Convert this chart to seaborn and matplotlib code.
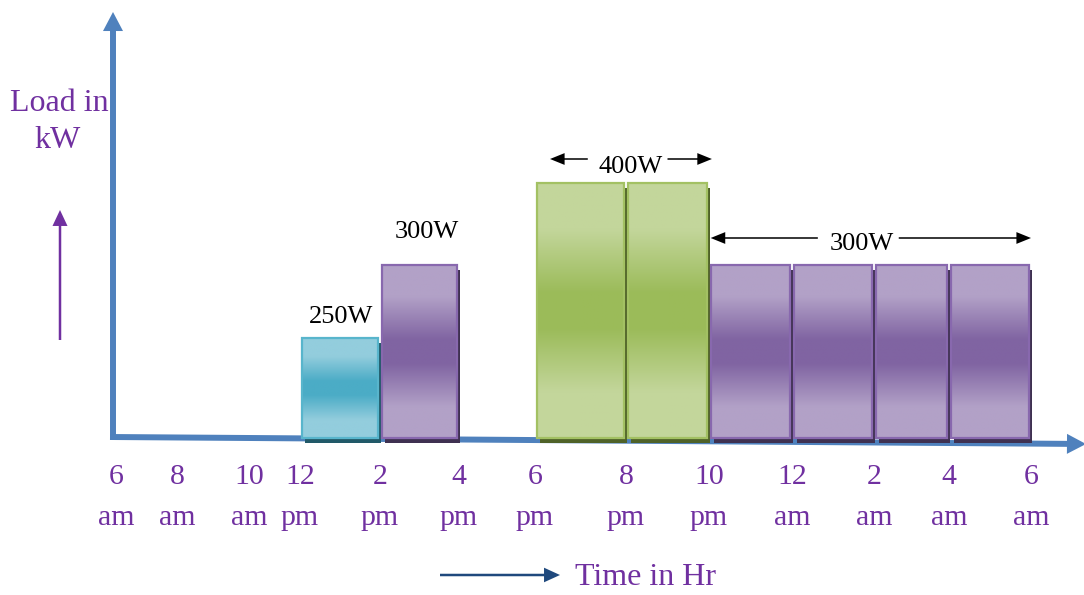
import matplotlib
matplotlib.use("Agg")
import matplotlib.pyplot as plt
import matplotlib.patheffects as pe
import matplotlib.transforms as mtransforms
from matplotlib.colors import LinearSegmentedColormap
from matplotlib.patches import Rectangle
import numpy as np
import pandas as pd
import seaborn as sns

# --- data ---------------------------------------------------------------
# each slot is 2 hours long, start given in hours after 6 am
slot_start_hr = [6, 8, 12, 14, 16, 18, 20, 22]
load_w = [250, 300, 400, 400, 300, 300, 300, 300]
slot_kind = ["aqua", "purple", "green", "green", "purple", "purple", "purple", "purple"]

tick_hr = [0, 2, 4, 6, 8, 10, 12, 14, 16, 18, 20, 22, 24]
tick_num = ["6", "8", "10", "12", "2", "4", "6", "8", "10", "12", "2", "4", "6"]
tick_half = ["am", "am", "am", "pm", "pm", "pm", "pm", "pm", "pm", "am", "am", "am", "am"]

callout_text = ["250W", "300W"]
callout_slot = [0, 1]

span_text = ["400W", "300W"]
span_load = [400, 300]

# --- layout -------------------------------------------------------------
W, H = 1084, 595
BASE_PX = 438  # baseline, pixels from top

# the sketch is not to scale: piecewise mapping hours -> px, watts -> px
X_HR = [-10, 0, 2, 4, 6, 8, 10, 12, 14, 16, 18, 20, 22, 24, 40]
X_PX = [-189, 116, 177, 249, 300, 380, 459, 535, 626, 709, 792, 874, 949, 1031, 1687]
Y_W = [-1000, 0, 250, 300, 400, 2000]
Y_PX = [-400, 0, 100, 173, 255, 1567]

# span arrows: text centre, (tail, tip) left, (tail, tip) right, in hours
SPAN_TEXT_HR = [14.1, 19.7]
SPAN_LEFT = [(13.16, 12.33), (18.63, 16.04)]
SPAN_RIGHT = [(15.0, 16.07), (20.66, 24.0)]
SPAN_ARROW_UP = [24, 27]
SPAN_TEXT_UP = [10, 15]
CALLOUT_OFFSET = [(1, 15), (7, 27)]

PURPLE_TXT = "#7030A0"
AXIS_BLUE = "#4F81BD"

STYLE = {
    "aqua": dict(light="#93CDDD", dark="#4BACC6", edge="#58B5CC", shadow="#215968"),
    "purple": dict(light="#B2A1C7", dark="#8064A2", edge="#8868AE", shadow="#3F3151"),
    "green": dict(light="#C3D69B", dark="#9BBB59", edge="#A3C163", shadow="#4F6228"),
}


def x_fwd(h):
    return np.interp(h, X_HR, X_PX)


def x_inv(p):
    return np.interp(p, X_PX, X_HR)


def y_fwd(w):
    return np.interp(w, Y_W, Y_PX)


def y_inv(p):
    return np.interp(p, Y_PX, Y_W)


def px_arrow(ax, x0, y0, x1, y1, color, head_len, head_w, tail_w, zorder=5):
    ax.annotate(
        "",
        xy=(x1, H - y1),
        xytext=(x0, H - y0),
        xycoords="figure pixels",
        textcoords="figure pixels",
        annotation_clip=False,
        zorder=zorder,
        arrowprops=dict(
            arrowstyle=f"simple,head_length={head_len},head_width={head_w},tail_width={tail_w}",
            mutation_scale=1,
            color=color,
            lw=0,
            shrinkA=0,
            shrinkB=0,
        ),
    )


sns.set_theme(style="white")
plt.rcParams["font.family"] = ["Liberation Serif", "DejaVu Serif"]

fig = plt.figure(figsize=(W / 100, H / 100), dpi=100)
ax = fig.add_axes([0, 0, 1, 1])

df = pd.DataFrame(
    {
        "mid_hr": np.array(slot_start_hr, dtype=float) + 1,
        "load_w": load_w,
        "kind": slot_kind,
    }
)
sns.barplot(
    data=df, x="mid_hr", y="load_w", orient="x", native_scale=True,
    width=0.955, color=STYLE["purple"]["dark"], errorbar=None, ax=ax,
)

ax.set_xscale("function", functions=(x_fwd, x_inv))
ax.set_yscale("function", functions=(y_fwd, y_inv))
ax.set_xlim(x_inv(0), x_inv(W))
ax.set_ylim(y_inv(-(H - BASE_PX)), y_inv(BASE_PX))
ax.axis("off")

# gradient fill, shadow and outline for every bar
grad = np.linspace(0, 1, 256).reshape(-1, 1)
bars = list(ax.patches)
for patch, kind in zip(bars, df["kind"]):
    st = STYLE[kind]
    cmap = LinearSegmentedColormap.from_list(
        kind,
        [(0, st["light"]), (0.18, st["light"]), (0.43, st["dark"]),
         (0.57, st["dark"]), (0.82, st["light"]), (1, st["light"])],
    )
    x0, y0 = patch.get_xy()
    w, h = patch.get_width(), patch.get_height()
    pts = ax.transAxes.inverted().transform(ax.transData.transform([(x0, y0), (x0 + w, y0 + h)]))
    patch.set_facecolor(st["dark"])
    patch.set_edgecolor("none")
    patch.set_zorder(2)
    patch.set_path_effects([
        pe.SimplePatchShadow(offset=(2.2, -3.6), shadow_rgbFace=st["shadow"], alpha=1.0),
        pe.Normal(),
    ])
    im = ax.imshow(
        grad, cmap=cmap, vmin=0, vmax=1, aspect="auto", interpolation="bilinear",
        extent=(pts[0, 0], pts[1, 0], pts[0, 1], pts[1, 1]),
        transform=ax.transAxes, zorder=3,
    )
    im.set_clip_path(patch)
    ax.add_patch(Rectangle((x0, y0), w, h, fill=False, ec=st["edge"], lw=1.6, zorder=4))

# value callouts above the first two bars
for text, idx, off in zip(callout_text, callout_slot, CALLOUT_OFFSET):
    ax.annotate(
        text, xy=(slot_start_hr[idx] + 1, load_w[idx]), xytext=off,
        textcoords="offset pixels", ha="center", va="baseline",
        fontsize=19, color="black", zorder=5,
    )

# span labels with double arrows
for i, text in enumerate(span_text):
    ax.annotate(
        text, xy=(SPAN_TEXT_HR[i], span_load[i]), xytext=(0, SPAN_TEXT_UP[i]),
        textcoords="offset pixels", ha="center", va="baseline",
        fontsize=19, color="black", zorder=5,
    )
    tr = mtransforms.offset_copy(ax.transData, fig=fig, x=0, y=SPAN_ARROW_UP[i], units="dots")
    for tail, tip in (SPAN_LEFT[i], SPAN_RIGHT[i]):
        ax.annotate(
            "", xy=(tip, span_load[i]), xytext=(tail, span_load[i]),
            xycoords=tr, textcoords=tr, annotation_clip=False, zorder=5,
            arrowprops=dict(
                arrowstyle="simple,head_length=10.5,head_width=8.5,tail_width=1.1",
                mutation_scale=1, color="black", lw=0, shrinkA=0, shrinkB=0,
            ),
        )

# hand-drawn axes, beneath the bars
px_arrow(ax, 113, 439, 113, 12, AXIS_BLUE, 13.7, 14.4, 4.3, zorder=1)
px_arrow(ax, 110, 437, 1086, 444, AXIS_BLUE, 13.7, 14.4, 4.3, zorder=1)

# tick labels: number over am/pm
tick_tr = mtransforms.blended_transform_factory(ax.transData, fig.transFigure)
for hr, num, half in zip(tick_hr, tick_num, tick_half):
    ax.text(hr, 1 - 484 / H, num, transform=tick_tr, ha="center", va="baseline",
            fontsize=21.5, color=PURPLE_TXT)
    ax.text(hr, 1 - 525 / H, half, transform=tick_tr, ha="center", va="baseline",
            fontsize=21.5, color=PURPLE_TXT)

# axis titles and direction arrows
fig.text(59 / W, 1 - 111 / H, "Load in", ha="center", va="baseline", fontsize=23, color=PURPLE_TXT)
fig.text(58 / W, 1 - 148 / H, "kW", ha="center", va="baseline", fontsize=23, color=PURPLE_TXT)
px_arrow(ax, 60, 340, 60, 210, PURPLE_TXT, 11.5, 10.8, 1.8)

fig.text(575 / W, 1 - 585 / H, "Time in Hr", ha="left", va="baseline", fontsize=23, color=PURPLE_TXT)
px_arrow(ax, 440, 575, 560, 575, "#1F497D", 11.5, 10.5, 1.8)

fig.savefig("out.png", dpi=100, facecolor="white")
